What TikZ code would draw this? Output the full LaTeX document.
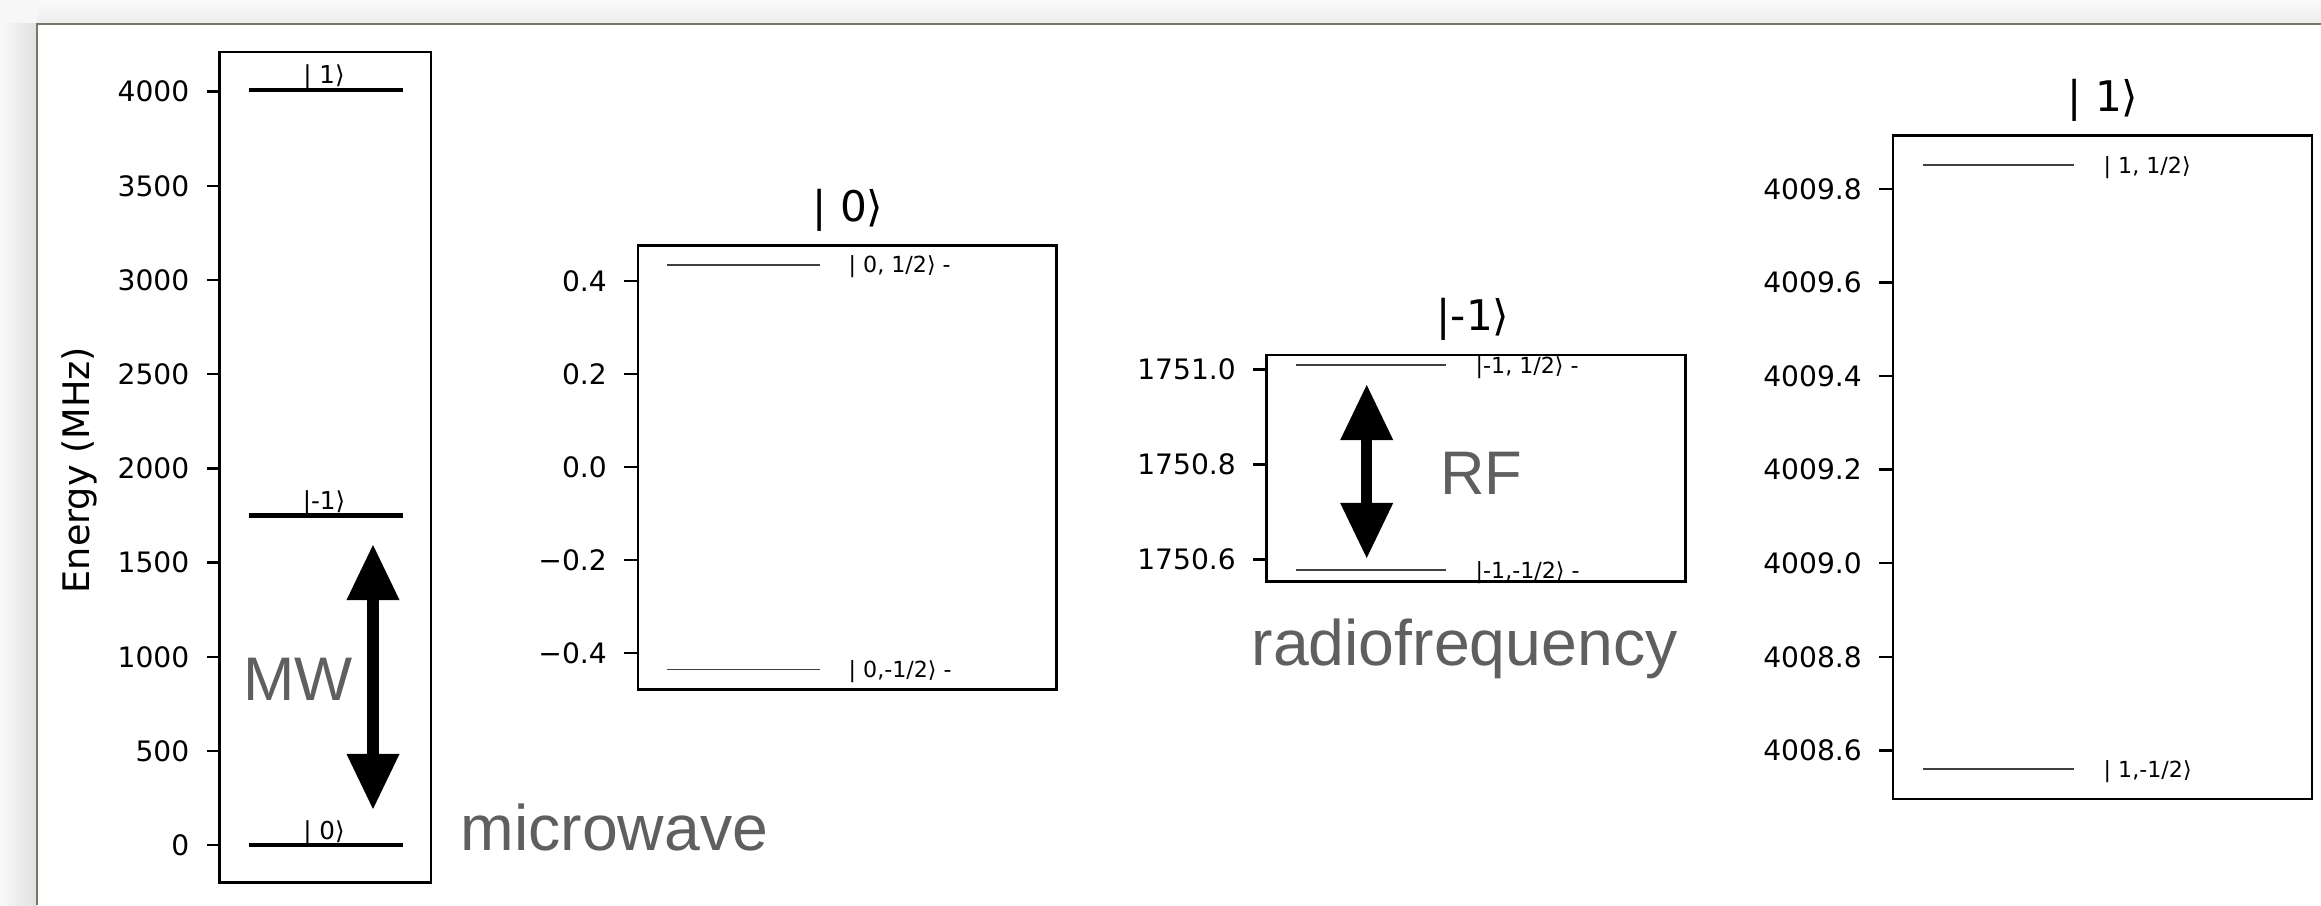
\documentclass[tikz,border=0pt]{standalone}
\usepackage{fontspec}
\setmainfont{DejaVu Sans}
\newfontfamily\notefont{Liberation Sans}
\usetikzlibrary{positioning,arrows.meta}

\definecolor{notegray}{HTML}{5F5F5F}
\definecolor{framegray}{HTML}{7A7568}

\begin{document}
\begin{tikzpicture}[
  x=0.01cm, y=0.01cm,
  dtip/.tip={Triangle[length=5.5mm,width=5.3mm,line width=0pt]},
  dbl/.style={dtip-dtip, line width=1.15mm},
  axbox/.style={draw, line width=0.75pt},
  tck/.style={line width=0.7pt},
  lvl/.style={line width=1.2pt},
  lvlthin/.style={line width=0.55pt, black!75},
  ticklab/.style={font=\fontsize{8}{9}\selectfont, inner sep=0pt, left=1.6mm},
  ttl/.style={font=\fontsize{12}{14}\selectfont, inner sep=0pt, anchor=base},
  statelab/.style={font=\fontsize{7}{8}\selectfont, inner sep=0pt, anchor=base},
  sublab/.style={font=\fontsize{6.3}{7.5}\selectfont, inner sep=0pt, anchor=base west},
  note/.style={font=\notefont\fontsize{17.5}{20}\selectfont, text=notegray, inner sep=0pt},
  word/.style={font=\notefont\fontsize{18.3}{21}\selectfont, text=notegray, inner sep=0pt, anchor=base west},
]
\useasboundingbox (0,0) rectangle (2321,905);
% page and its frame
\fill[gray!6] (0,0) rectangle (2321,905);
\shade[left color=gray!5, right color=gray!24] (0,0) rectangle (37,881);
\shade[top color=gray!4, bottom color=gray!14] (37,881) rectangle (2321,905);
\fill[white] (37,0) rectangle (2321,881);
\draw[framegray, line width=0.6pt] (37,0) |- (2321,881);

% overview
\draw[axbox] (219.5,22.2) rectangle (431,853.1);
\foreach \val [count=\i from 0] in {0,500,...,4000}
  {\draw[tck] (219.5,{59.8+94.19*\i}) -- (206.5,{59.8+94.19*\i}) node[ticklab] (e\i) {\val};}
\node[rotate=90, font=\fontsize{10.4}{12}\selectfont] (elab) at (79,435) {Energy (MHz)};
\draw[lvl] (248.5,59.8) -- (403,59.8);
\draw[lvl] (248.5,389.6) -- (403,389.6);
\draw[lvl] (248.5,815.2) -- (403,815.2);
\node[statelab] (s0) at (324,66) {| 0⟩};
\node[statelab] (sm) at (324,396) {|-1⟩};
\node[statelab] (s1) at (324,821) {| 1⟩};
\coordinate (mwlo) at (373,96);
\coordinate (mwhi) at (373,360);
\draw[dbl] (mwlo) -- (mwhi);
\node[note] (mw) at (298,226) {MW};
\node[word] (micro) at (460,55) {microwave};

% zero
\draw[axbox] (638,215.7) rectangle (1056.5,659.3);
\foreach \val/\lab [count=\i] in {-0.4/−0.4,-0.2/−0.2,0/0.0,0.2/0.2,0.4/0.4}
  {\draw[tck] (638,{437.9+465.25*\val}) -- (624,{437.9+465.25*\val}) node[ticklab] (z\i) {\lab};}
\draw[lvlthin] (667,640.3) -- (819.6,640.3);
\draw[lvlthin] (667,235.5) -- (819.6,235.5);
\node[sublab] (zu) at (848,632.5) {| 0, 1/2⟩ -};
\node[sublab] (zd) at (848,227.5) {| 0,-1/2⟩ -};
\node[ttl] (tz) at (848,684) {| 0⟩};

% minus one
\draw[axbox] (1266.5,323.3) rectangle (1685.5,550);
\foreach \lab [count=\i from 0] in {1750.6,1750.8,1751.0}
  {\draw[tck] (1266.5,{345.7+95*\i}) -- (1253,{345.7+95*\i}) node[ticklab] (m\i) {\lab};}
\draw[lvlthin] (1296,540) -- (1446,540);
\draw[lvlthin] (1296,335) -- (1446,335);
\node[sublab] (mu) at (1475,532) {|-1, 1/2⟩ -};
\node[sublab] (md) at (1475,327) {|-1,-1/2⟩ -};
\node[ttl] (tm) at (1473,574.3) {|-1⟩};
\coordinate (rflo) at (1366.7,347);
\coordinate (rfhi) at (1366.7,520);
\draw[dbl] (rflo) -- (rfhi);
\node[note] (rf) at (1481,432) {RF};
\node[word] (radio) at (1251,240) {radiofrequency};

% plus one
\draw[axbox] (1893,106) rectangle (2312,769.3);
\foreach \lab [count=\i from 0] in {4008.6,4008.8,4009.0,4009.2,4009.4,4009.6,4009.8}
  {\draw[tck] (1893,{154.5+93.62*\i}) -- (1879,{154.5+93.62*\i}) node[ticklab] (p\i) {\lab};}
\draw[lvlthin] (1922.6,739.7) -- (2074.3,739.7);
\draw[lvlthin] (1922.6,135.6) -- (2074.3,135.6);
\node[sublab] (pu) at (2103,731.7) {| 1, 1/2⟩};
\node[sublab] (pd) at (2103,127.6) {| 1,-1/2⟩};
\node[ttl] (tp) at (2103,793.8) {| 1⟩};
\end{tikzpicture}
\end{document}
